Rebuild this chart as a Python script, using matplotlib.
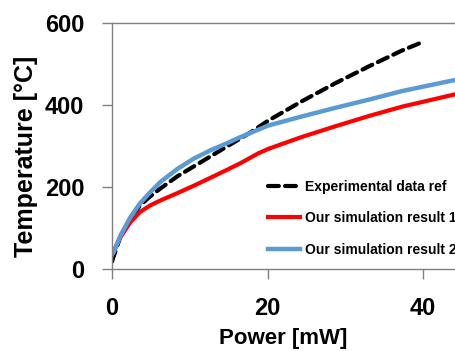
import matplotlib
matplotlib.use("Agg")
import matplotlib.pyplot as plt

# values
exp_x = [0, 0.2, 1.1, 2.35, 3.6, 4.9, 6.2, 8.4, 10.5, 12.6, 14.8, 16.3, 17.8,
         20.1, 24.4, 28.7, 33, 37.3, 39.6]
exp_t = [18, 30, 80, 122, 155, 177, 196, 226, 250, 274, 299, 316, 333,
         362, 409, 453, 494, 533, 551]

sim1_x = [0, 0.5, 1.1, 2.35, 3.6, 4.9, 6.2, 8.4, 10.5, 12.6, 14.8, 16.5,
          18.8, 20.1, 24.4, 28.7, 33, 37.3, 44.1]
sim1_t = [32, 55, 78, 114, 139, 155, 167, 185, 203, 222, 242, 258,
          282, 293, 322, 348, 373, 396, 426]

sim2_x = [0, 0.2, 1.1, 2.35, 3.6, 4.9, 6.2, 8.4, 10.5, 12.6, 14.8, 16.3,
          20.1, 24.4, 28.7, 33, 37.3, 44.1]
sim2_t = [36, 40, 82, 126, 160, 187, 212, 244, 269, 289, 307, 320,
          350, 372, 393, 413, 434, 461]

labels = ["Experimental data ref", "Our simulation result 1", "Our simulation result 2"]
xticks = [0, 20, 40]
yticks = [0, 200, 400, 600]

plt.rcParams['font.family'] = ['Liberation Sans', 'DejaVu Sans']
plt.rcParams['font.weight'] = 'bold'

fig = plt.figure(figsize=(4.55, 3.51), dpi=100)
ax = fig.add_axes([112 / 455, 1 - 269 / 351, 1 - 112 / 455, 246 / 351])

ax.plot(exp_x, exp_t, color='black', lw=3, dashes=(2.6, 1.5),
        dash_capstyle='round', label=labels[0])
ax.plot(sim1_x, sim1_t, color='#ff0000', lw=3, label=labels[1])
ax.plot(sim2_x, sim2_t, color='#5b9bd5', lw=3.2, label=labels[2])

ax.set_xlim(0, 44.1)
ax.set_ylim(0, 600)
ax.set_xticks(xticks)
ax.set_yticks(yticks)

for s in ['left', 'bottom', 'top']:
    ax.spines[s].set_color('#808080')
    ax.spines[s].set_linewidth(1)
ax.spines['right'].set_visible(False)
ax.tick_params(direction='out', length=7, width=1, color='#808080',
               labelsize=17, pad=13)
for t in ax.get_xticklabels() + ax.get_yticklabels():
    t.set_fontweight('bold')

ax.set_xlabel('Power [mW]', fontsize=16, fontweight='bold')
ax.set_ylabel('Temperature [°C]', fontsize=18, fontweight='bold')
ax.xaxis.set_label_coords(0.4985, -0.24)
ax.yaxis.set_label_coords(-0.216, 0.457)

leg = ax.legend(loc='upper left', bbox_to_anchor=(268 / 455, 1 - 180 / 351),
                bbox_transform=fig.transFigure, frameon=False, borderpad=0,
                borderaxespad=0, handlelength=2.3, handletextpad=0.35,
                labelspacing=1.25, prop={'size': 10, 'weight': 'bold'})

fig.savefig('out.png', dpi=100)
